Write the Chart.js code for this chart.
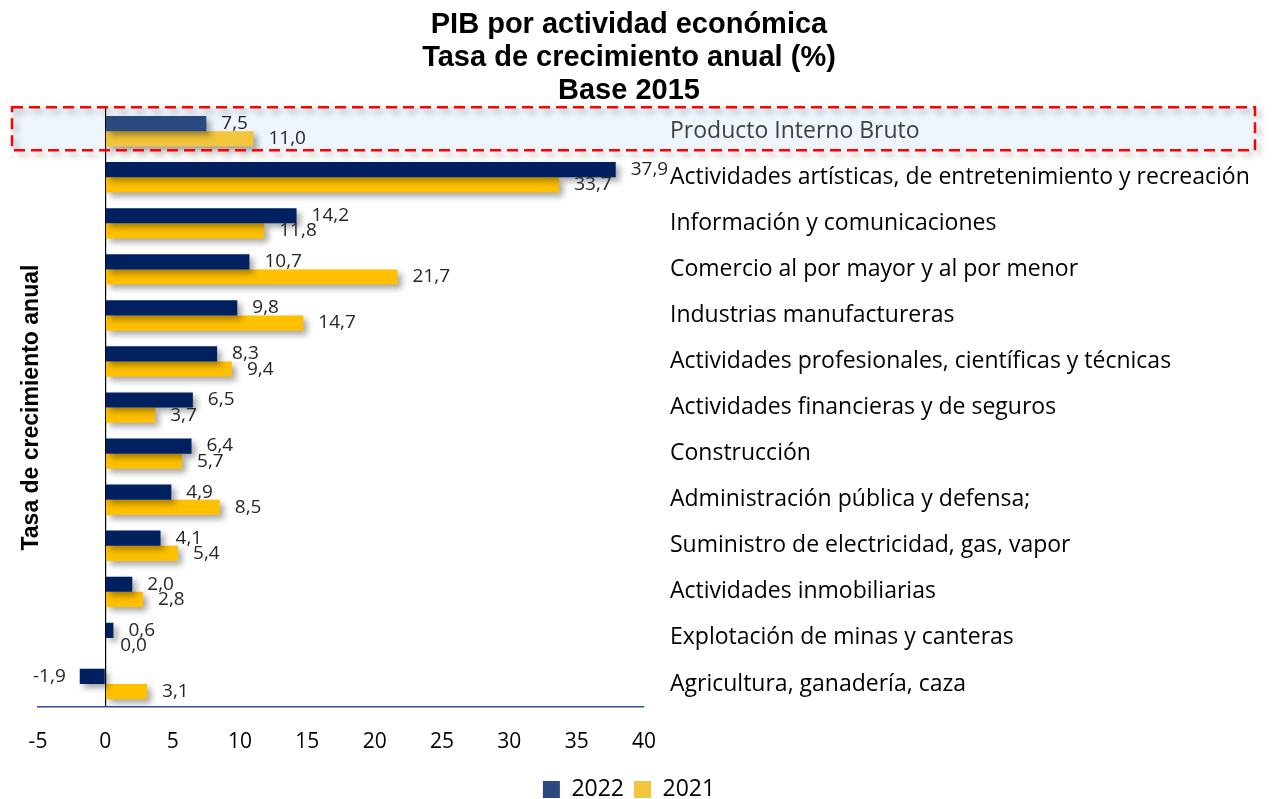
<!DOCTYPE html>
<html>
<head>
<meta charset="utf-8">
<script src="https://cdn.jsdelivr.net/npm/chart.js"></script>
<style>
  body { margin: 0; background: #fff; }
  #wrap { width: 1272px; height: 799px; }
</style>
</head>
<body>
<div id="wrap"><canvas id="myChartPib"></canvas></div>
<script>
const categories = [
    'Producto Interno Bruto',
    'Actividades artísticas, de entretenimiento y recreación',
    'Información y comunicaciones',
    'Comercio al por mayor y al por menor',
    'Industrias manufactureras',
    'Actividades profesionales, científicas y técnicas',
    'Actividades financieras y de seguros',
    'Construcción',
    'Administración pública y defensa;',
    'Suministro de electricidad, gas, vapor',
    'Actividades inmobiliarias',
    'Explotación de minas y canteras',
    'Agricultura, ganadería, caza'
];
const values2022 = [7.5, 37.9, 14.2, 10.7, 9.8, 8.3, 6.5, 6.4, 4.9, 4.1, 2.0, 0.6, -1.9];
const values2021 = [11.0, 33.7, 11.8, 21.7, 14.7, 9.4, 3.7, 5.7, 8.5, 5.4, 2.8, 0.0, 3.1];
const titleLines = ['PIB por actividad económica', 'Tasa de crecimiento anual (%)', 'Base 2015'];
const axisTitle = 'Tasa de crecimiento anual';

const textFont = "'Open Sans', 'Noto Sans', sans-serif";
const boldFont = "Arial, 'Liberation Sans', sans-serif";

// first row is highlighted, its bars look a bit lighter
const navyColors = values2022.map((v, i) => i === 0 ? '#2a4a7f' : '#002060');
const goldColors = values2021.map((v, i) => i === 0 ? '#f2c53a' : '#ffc000');

function fmt(v) {
    return v.toFixed(1).replace('.', ',');
}

// light blue band + red dashed box around the first category
const highlightPlugin = {
    id: 'highlight',
    beforeDraw(chart) {
        const y = chart.scales.y.getPixelForValue(0);
        const ctx = chart.ctx;
        ctx.save();
        ctx.fillStyle = '#eef5fc';
        ctx.fillRect(12, y - 24, chart.width - 29, 43);
        ctx.restore();
    },
    afterDatasetsDraw(chart) {
        const y = chart.scales.y.getPixelForValue(0);
        const ctx = chart.ctx;
        ctx.save();
        ctx.strokeStyle = '#ff0000';
        ctx.lineWidth = 2.5;
        ctx.setLineDash([11, 6]);
        ctx.strokeRect(12, y - 24, chart.width - 29, 43);
        ctx.restore();
    }
};

// soft shadow behind bars
const shadowPlugin = {
    id: 'barShadow',
    beforeDatasetsDraw(chart) {
        const ctx = chart.ctx;
        ctx.save();
        ctx.shadowColor = 'rgba(0,0,0,0.35)';
        ctx.shadowBlur = 6;
        ctx.shadowOffsetX = 4;
        ctx.shadowOffsetY = 4;
    },
    afterDatasetsDraw(chart) {
        chart.ctx.restore();
    }
};

// value labels next to the bar ends + rotated axis title on the left
const labelPlugin = {
    id: 'valueLabels',
    afterDatasetsDraw(chart) {
        const ctx = chart.ctx;
        ctx.save();
        ctx.font = '19px ' + textFont;
        ctx.fillStyle = '#262626';
        ctx.textBaseline = 'middle';
        chart.data.datasets.forEach((ds, di) => {
            const meta = chart.getDatasetMeta(di);
            meta.data.forEach((bar, i) => {
                const v = ds.data[i];
                if (v < 0) {
                    ctx.textAlign = 'right';
                    ctx.fillText(fmt(v), bar.x - 14, bar.y);
                } else {
                    ctx.textAlign = 'left';
                    ctx.fillText(fmt(v), bar.x + 15, bar.y);
                }
            });
        });
        const area = chart.chartArea;
        ctx.translate(32, (area.top + area.bottom) / 2);
        ctx.rotate(-Math.PI / 2);
        ctx.textAlign = 'center';
        ctx.fillStyle = '#000';
        ctx.font = 'bold 23px ' + boldFont;
        ctx.fillText(axisTitle, 0, 0);
        ctx.restore();
    }
};

const ctxPib = document.getElementById('myChartPib').getContext('2d');
const myChartPib = new Chart(ctxPib, {
    type: 'bar',
    data: {
        labels: categories,
        datasets: [{
            label: '2022',
            data: values2022,
            backgroundColor: navyColors,
            borderWidth: 0
        }, {
            label: '2021',
            data: values2021,
            backgroundColor: goldColors,
            borderWidth: 0
        }]
    },
    options: {
        indexAxis: 'y',
        responsive: true,
        maintainAspectRatio: false,
        animation: false,
        categoryPercentage: 0.66,
        barPercentage: 1,
        layout: {
            padding: { left: 0, right: 14, top: 0, bottom: 0 }
        },
        scales: {
            x: {
                min: -5,
                max: 40,
                ticks: {
                    stepSize: 5,
                    padding: 22,
                    color: '#000',
                    font: { family: textFont, size: 21 }
                },
                grid: {
                    drawTicks: false,
                    color: c => (c.tick && c.tick.value === 0) ? '#000000' : 'rgba(0,0,0,0)',
                    lineWidth: 1.2
                },
                border: { display: true, color: '#2f4f8f', width: 1.5 },
                afterFit(scale) {
                    scale.height = 61;
                }
            },
            y: {
                position: 'right',
                grid: { display: false, drawTicks: false },
                border: { display: false },
                ticks: {
                    padding: 26,
                    color: c => c.index === 0 ? '#404040' : '#000',
                    font: { family: textFont, size: 23 }
                },
                afterFit(scale) {
                    scale.width = 614;
                }
            },
            // empty left axis, only keeps room for the rotated title
            yLeft: {
                type: 'category',
                position: 'left',
                grid: { display: false, drawTicks: false },
                border: { display: false },
                ticks: { display: false },
                afterFit(scale) {
                    scale.width = 38;
                }
            }
        },
        plugins: {
            title: {
                display: true,
                text: titleLines,
                color: '#000',
                font: { family: boldFont, size: 29, weight: 'bold', lineHeight: 1.14 },
                padding: { top: 8, bottom: 1 }
            },
            legend: {
                position: 'bottom',
                maxHeight: 31,
                labels: {
                    boxWidth: 17,
                    boxHeight: 17,
                    padding: 10,
                    color: '#000',
                    font: { family: textFont, size: 23 }
                }
            },
            tooltip: { enabled: false }
        }
    },
    plugins: [highlightPlugin, shadowPlugin, labelPlugin]
});
</script>
</body>
</html>
